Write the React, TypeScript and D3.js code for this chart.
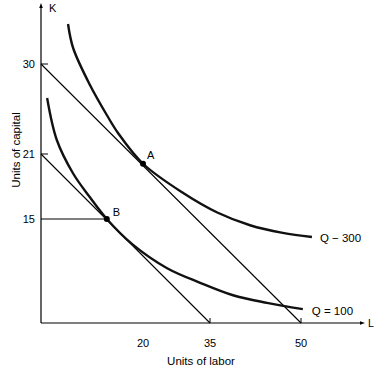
import * as d3 from "d3";

// tick values (the drawing is schematic, so the scales are piecewise)
const xTicks = [20, 35, 50];
const yTicks = [30, 21, 15];

// isoquants as [labor, capital]
const q300: [number, number][] = [
    [5.3, 34], [6.3, 31.6], [9.6, 27.9], [12.9, 24.9], [15.1, 23.1], [20, 20.1],
    [29.0, 17.4], [36.2, 15.6], [41.6, 14.1], [47.0, 13.0], [51.8, 12.4],
];
const q100: [number, number][] = [
    [1.2, 26.6], [3.1, 22.4], [6.3, 19.2], [9.6, 17.0], [12.9, 15.0], [18.0, 11.3],
    [25.4, 7.9], [32.8, 5.8], [38.8, 4.0], [44.4, 2.9], [50.3, 2.0],
];

// budget lines (isocosts)
const budgetHigh: [number, number][] = [[0, 30], [50, 0]];
const budgetLow: [number, number][] = [[0, 21], [35, 0]];

const pointA: [number, number] = [20, 20.1];
const pointB: [number, number] = [12.9, 15];

const App = () => {
    const width = 375;
    const height = 369;
    const font = "'Liberation Sans', Arial, sans-serif";

    const x = d3.scaleLinear().domain([0, 20, 35, 50]).range([41, 143, 210, 301]);
    const y = d3.scaleLinear().domain([0, 15, 21, 30]).range([323, 219, 154, 64]);

    const curve = d3.line<[number, number]>().x(d => x(d[0])).y(d => y(d[1])).curve(d3.curveCatmullRom);
    const straight = d3.line<[number, number]>().x(d => x(d[0])).y(d => y(d[1]));

    const x0 = x(0);
    const y0 = y(0);

    return (
        <svg width={width} height={height} style={{ position: 'absolute', left: 0, top: 0 }}>
            <rect width={width} height={height} fill="#fff" />
            {/* axes */}
            <line x1={x0} x2={x0} y1={y0} y2={6} stroke="#000" strokeWidth={1.2} />
            <path d={`M${x0},3 L${x0 - 1.8},8 L${x0 + 1.8},8 Z`} fill="#000" />
            <line x1={x0} x2={362} y1={y0} y2={y0} stroke="#000" strokeWidth={1.2} />
            <path d={`M365,${y0} L360,${y0 - 1.8} L360,${y0 + 1.8} Z`} fill="#000" />
            <text x={49} y={12} fontFamily={font} fontSize={11}>K</text>
            <text x={368} y={327} fontFamily={font} fontSize={10.5}>L</text>

            {/* ticks */}
            {yTicks.filter(t => t !== 15).map(t => (
                <line key={t} x1={x0} x2={x0 + 7} y1={y(t)} y2={y(t)} stroke="#000" strokeWidth={1} />
            ))}
            {yTicks.map(t => (
                <text key={t} x={35} y={y(t) + 4} textAnchor="end" fontFamily={font} fontSize={11}>{t}</text>
            ))}
            {xTicks.filter(t => t !== 20).map(t => (
                <line key={t} x1={x(t)} x2={x(t)} y1={y0} y2={y0 - 5} stroke="#000" strokeWidth={1} />
            ))}
            {xTicks.map(t => (
                <text key={t} x={x(t)} y={347} textAnchor="middle" fontFamily={font} fontSize={11}>{t}</text>
            ))}
            <text x={201} y={365} textAnchor="middle" fontFamily={font} fontSize={11.5}>Units of labor</text>
            <text transform="translate(20,150) rotate(-90)" textAnchor="middle" fontFamily={font} fontSize={11.5}>Units of capital</text>

            {/* budget lines */}
            <path d={straight(budgetHigh) ?? ''} fill="none" stroke="#000" strokeWidth={1.1} />
            <path d={straight(budgetLow) ?? ''} fill="none" stroke="#000" strokeWidth={1.1} />
            <line x1={x0} x2={x(pointB[0])} y1={y(15)} y2={y(15)} stroke="#000" strokeWidth={1.1} />

            {/* isoquants */}
            <path d={curve(q300) ?? ''} fill="none" stroke="#111" strokeWidth={2.4} />
            <path d={curve(q100) ?? ''} fill="none" stroke="#111" strokeWidth={2.4} />
            <text x={x(q300[q300.length - 1][0]) + 8} y={y(q300[q300.length - 1][1]) + 5} fontFamily={font} fontSize={11.5}>Q − 300</text>
            <text x={x(q100[q100.length - 1][0]) + 9} y={y(q100[q100.length - 1][1]) + 6} fontFamily={font} fontSize={11.5}>Q = 100</text>

            {/* tangency points */}
            <circle cx={x(pointA[0])} cy={y(pointA[1])} r={3} fill="#000" />
            <text x={x(pointA[0]) + 4} y={y(pointA[1]) - 5} fontFamily={font} fontSize={11}>A</text>
            <circle cx={x(pointB[0])} cy={y(pointB[1])} r={3} fill="#000" />
            <text x={x(pointB[0]) + 6} y={y(pointB[1]) - 3} fontFamily={font} fontSize={11}>B</text>
        </svg>
    );
};

export default App;
